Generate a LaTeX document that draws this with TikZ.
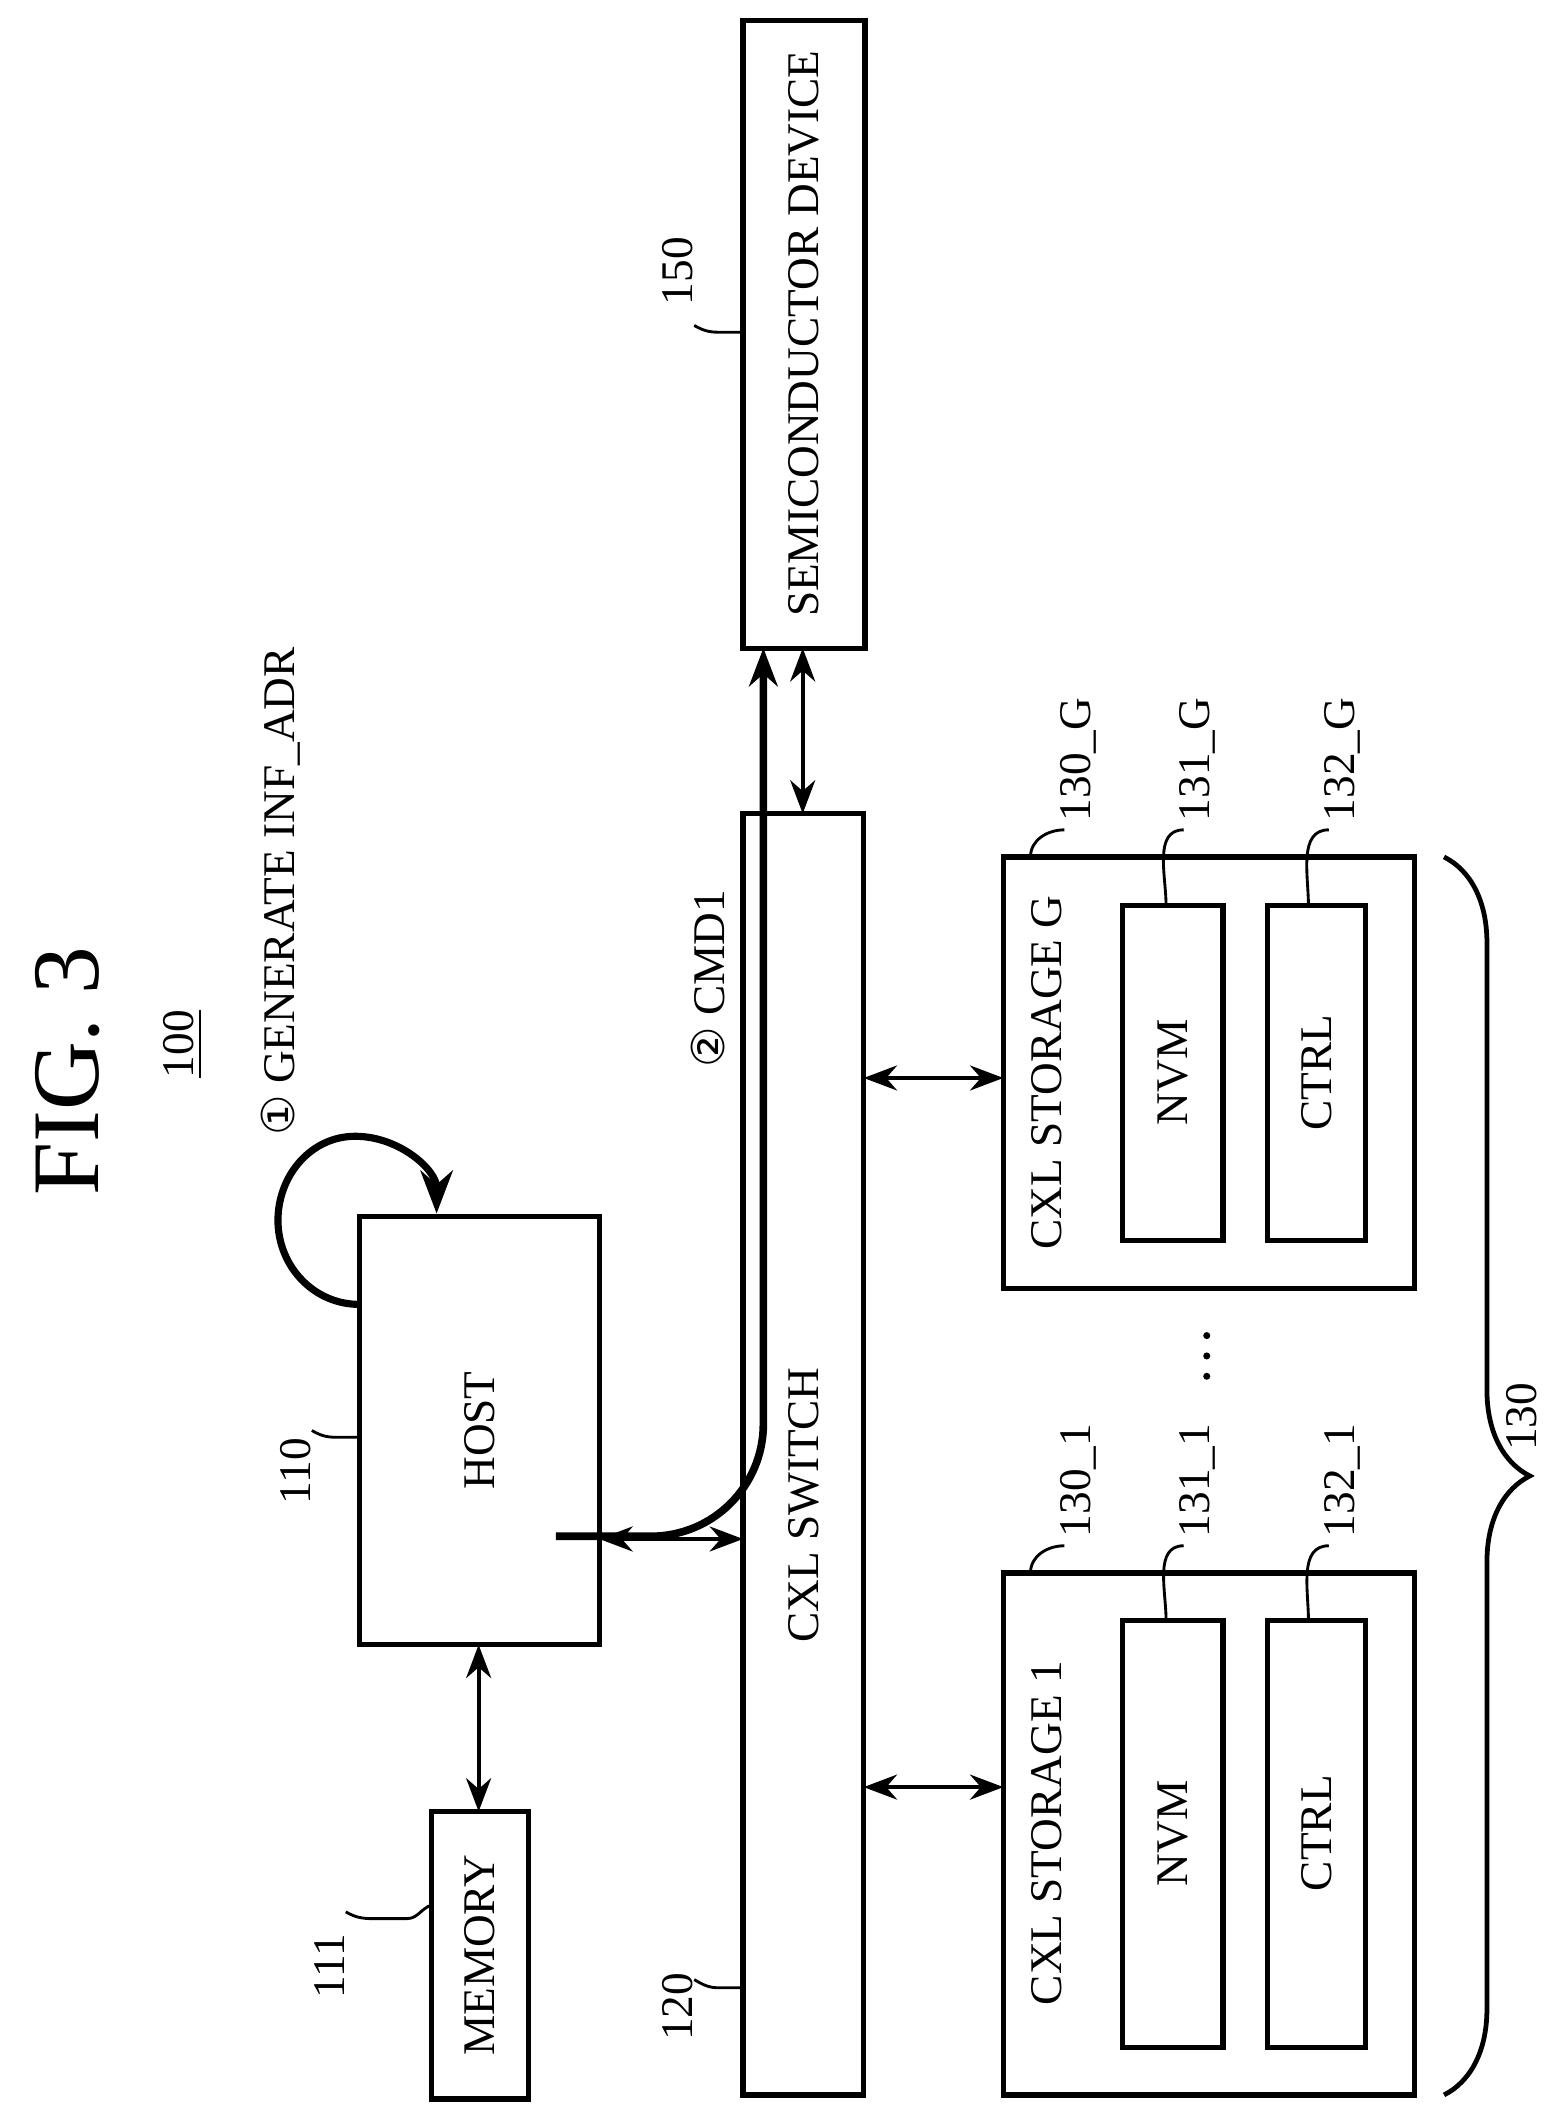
\documentclass[tikz,border=0pt]{standalone}
\usepackage{fontspec}
\setmainfont{Liberation Serif}
\newfontfamily\symfont{DejaVu Sans}
\usetikzlibrary{arrows.meta,decorations.pathreplacing}
\begin{document}
\begin{tikzpicture}[x=0.01cm,y=-0.01cm,
    box/.style={draw, line width=1.1pt},
    lbl/.style={rotate=90, font=\fontsize{9.5}{10}\selectfont},
    dbl/.style={{Stealth[length=7pt]}-{Stealth[length=7pt]}, line width=0.8pt},
    leader/.style={line width=0.6pt}]
    \useasboundingbox (0,0) rectangle (1145,1565);

    % title
    \node[rotate=90, font=\fontsize{20}{22}\selectfont] (fig) at (50,790) {FIG. 3};
    \node[lbl] (sys) at (135,770) {\underline{100}};

    % semiconductor device
    \draw[box] (548,15) rectangle (638,478);
    \node[lbl] (semi) at (593,246) {SEMICONDUCTOR DEVICE};
    \node[lbl] (n150) at (500,200) {150};
    \draw[leader] (512,240) to[out=-30,in=180] (530,245) -- (548,245);

    % cxl switch
    \draw[box] (548,600) rectangle (637,1545);
    \node[lbl] (sw) at (593,1110) {CXL SWITCH};
    \node[lbl] (n120) at (500,1480) {120};
    \draw[leader] (512,1460) to[out=-30,in=180] (530,1466) -- (548,1466);

    % host
    \draw[box] (265,897) rectangle (442,1213);
    \node[lbl] (host) at (354,1055) {HOST};
    \node[lbl] (n110) at (218,1085) {110};
    \draw[leader] (230,1055) to[out=-30,in=180] (248,1060) -- (265,1060);

    % memory
    \draw[box] (318,1336) rectangle (390,1548);
    \node[lbl] (mem) at (354,1442) {MEMORY};
    \node[lbl] (n111) at (243,1450) {111};
    \draw[leader] (255,1410) to[out=-30,in=180] (275,1415) -- (300,1415) to[out=0,in=200] (318,1405);

    % connections
    \draw[dbl] (353,1336) -- (353,1213);
    \draw[dbl] (442,1135) -- (548,1135);
    \draw[dbl] (592,478) -- (592,600);
    \draw[-{Stealth[length=8pt]}, line width=1.6pt] (410,1133) -- (480,1133)
        to[out=0,in=-90] (563,1050) -- (563,478);
    \draw[-{Stealth[length=9pt]}, line width=1.5pt] (265,962)
        to[out=180,in=-90] (205,900) to[out=90,in=180] (262,838) to[out=0,in=90] (322,895);
    \node[lbl, anchor=west] (gen) at (207,850) {{\symfont ①} GENERATE INF\_ADR};
    \node[lbl, anchor=west] (cmd) at (522,800) {{\symfont ②} CMD1};

    % storage G
    \draw[box] (740,632) rectangle (1043,950);
    \node[lbl] (stg) at (772,791) {CXL STORAGE G};
    \draw[box] (828,668) rectangle (902,915);
    \node[lbl] (nvmg) at (865,791) {NVM};
    \draw[box] (935,668) rectangle (1007,915);
    \node[lbl] (ctrlg) at (971,791) {CTRL};
    \node[lbl, anchor=west] (n130g) at (795,618) {130\_G};
    \draw[leader] (760,632) to[out=90,in=180] (785,612);
    \node[lbl, anchor=west] (n131g) at (883,618) {131\_G};
    \draw[leader] (860,668) to[out=90,in=180] (873,612);
    \node[lbl, anchor=west] (n132g) at (990,618) {132\_G};
    \draw[leader] (965,668) to[out=90,in=180] (980,612);

    % storage 1
    \draw[box] (740,1160) rectangle (1043,1545);
    \node[lbl] (st1) at (772,1352) {CXL STORAGE 1};
    \draw[box] (828,1195) rectangle (902,1510);
    \node[lbl] (nvm1) at (865,1352) {NVM};
    \draw[box] (935,1195) rectangle (1007,1510);
    \node[lbl] (ctrl1) at (971,1352) {CTRL};
    \node[lbl, anchor=west] (n1301) at (795,1146) {130\_1};
    \draw[leader] (760,1160) to[out=90,in=180] (785,1140);
    \node[lbl, anchor=west] (n1311) at (883,1146) {131\_1};
    \draw[leader] (860,1195) to[out=90,in=180] (873,1140);
    \node[lbl, anchor=west] (n1321) at (990,1146) {132\_1};
    \draw[leader] (965,1195) to[out=90,in=180] (980,1140);

    \draw[dbl] (637,795) -- (740,795);
    \draw[dbl] (637,1318) -- (740,1318);
    \foreach \yy in {985,1000,1015} \fill (890,\yy) circle (2.6);

    % group brace
    \draw[line width=1pt, decorate, decoration={brace, amplitude=18pt}] (1065,632) -- (1065,1545);
    \node[lbl] (n130) at (1122,1045) {130};
\end{tikzpicture}
\end{document}
